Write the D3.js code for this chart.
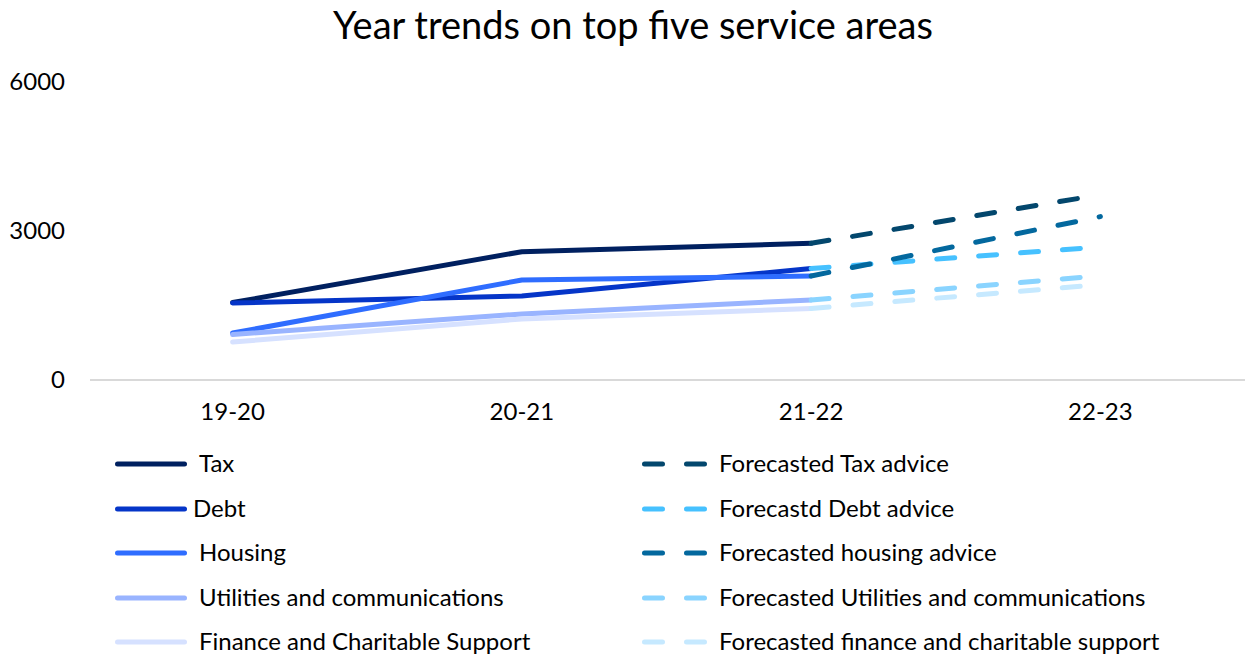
<!DOCTYPE html>
<html>
<head>
<meta charset="utf-8">
<script src="https://cdn.jsdelivr.net/npm/d3@7"></script>
<style>
  html, body { margin: 0; padding: 0; background: #fff; }
  svg { display: block; font-family: Lato, "Open Sans", sans-serif; }
</style>
</head>
<body>
<svg id="chart" width="1245" height="656"></svg>
<script>
// Financial years on the x axis
const years = ["19-20", "20-21", "21-22", "22-23"];
const yTicks = [0, 3000, 6000];

// Recorded enquiries per service area (first three years)
const tax       = [1560, 2583, 2752];
const debt      = [1550, 1691, 2245];
const housing   = [946, 2013, 2094];
const utilities = [916, 1329, 1611];
const finance   = [765, 1228, 1440];

// Forecasts run from 21-22 to 22-23
const fcYears     = ["21-22", "22-23"];
const fcTax       = [2752, 3730];
const fcDebt      = [2245, 2680];
const fcHousing   = [2094, 3290];
const fcUtilities = [1611, 2100];
const fcFinance   = [1440, 1920];

const actualSeries = [
  { name: "Tax", values: tax, color: "#002060" },
  { name: "Debt", values: debt, color: "#0535c8" },
  { name: "Housing", values: housing, color: "#2f6dff" },
  { name: "Utilities and communications", values: utilities, color: "#99b4ff" },
  { name: "Finance and Charitable Support", values: finance, color: "#d6e1ff" }
];
const forecastSeries = [
  { name: "Forecasted Tax advice", values: fcTax, color: "#03476d" },
  { name: "Forecastd Debt advice", values: fcDebt, color: "#46c1ff" },
  { name: "Forecasted housing advice", values: fcHousing, color: "#03689e" },
  { name: "Forecasted Utilities and communications", values: fcUtilities, color: "#8ad4ff" },
  { name: "Forecasted finance and charitable support", values: fcFinance, color: "#c6e9ff" }
];

const svg = d3.select("#chart");
const x = d3.scalePoint().domain(years).range([88, 1245]).padding(0.5);
const y = d3.scaleLinear().domain([0, 6000]).range([380, 82]);

const DASH = "18,24";
const LW = 5;
const FS = 24;

// Title
svg.append("text")
  .attr("x", 633).attr("y", 39)
  .attr("text-anchor", "middle")
  .attr("font-size", 38)
  .attr("fill", "#000")
  .text("Year trends on top five service areas");

// Baseline
svg.append("line")
  .attr("x1", 90).attr("x2", 1245)
  .attr("y1", y(0)).attr("y2", y(0))
  .attr("stroke", "#d9d9d9").attr("stroke-width", 2);

// Y tick labels
svg.append("g").selectAll("text").data(yTicks).join("text")
  .attr("x", 65).attr("y", d => y(d))
  .attr("dy", "0.35em")
  .attr("text-anchor", "end")
  .attr("font-size", FS)
  .attr("fill", "#000")
  .text(d => d);

// X tick labels
svg.append("g").selectAll("text").data(years).join("text")
  .attr("x", d => x(d)).attr("y", 412)
  .attr("dy", "0.35em")
  .attr("text-anchor", "middle")
  .attr("font-size", FS)
  .attr("fill", "#000")
  .text(d => d);

const line = d3.line().x(d => x(d[0])).y(d => y(d[1]));

const plot = svg.append("g");
actualSeries.forEach(s => {
  plot.append("path")
    .datum(s.values.map((v, i) => [years[i], v]))
    .attr("d", line)
    .attr("fill", "none")
    .attr("stroke", s.color)
    .attr("stroke-width", LW)
    .attr("stroke-linecap", "round")
    .attr("stroke-linejoin", "round");
});
forecastSeries.forEach(s => {
  plot.append("path")
    .datum(s.values.map((v, i) => [fcYears[i], v]))
    .attr("d", line)
    .attr("fill", "none")
    .attr("stroke", s.color)
    .attr("stroke-width", LW)
    .attr("stroke-dasharray", DASH)
    .attr("stroke-linecap", "round");
});

// Legend: actual series on the left, forecasts on the right
const rowY = [464, 509, 553, 598, 642];
const left = svg.append("g");
actualSeries.forEach((s, i) => {
  left.append("line")
    .attr("x1", 117.5).attr("x2", 184.5)
    .attr("y1", rowY[i]).attr("y2", rowY[i])
    .attr("stroke", s.color).attr("stroke-width", LW)
    .attr("stroke-linecap", "round");
  left.append("text")
    .attr("x", s.name === "Debt" ? 193 : 199)
    .attr("y", rowY[i]).attr("dy", "0.35em")
    .attr("font-size", FS).attr("fill", "#000")
    .text(s.name);
});
const right = svg.append("g");
forecastSeries.forEach((s, i) => {
  right.append("line")
    .attr("x1", 644.5).attr("x2", 704.5)
    .attr("y1", rowY[i]).attr("y2", rowY[i])
    .attr("stroke", s.color).attr("stroke-width", LW)
    .attr("stroke-dasharray", DASH)
    .attr("stroke-linecap", "round");
  right.append("text")
    .attr("x", 719)
    .attr("y", rowY[i]).attr("dy", "0.35em")
    .attr("font-size", FS).attr("fill", "#000")
    .text(s.name);
});
</script>
</body>
</html>
